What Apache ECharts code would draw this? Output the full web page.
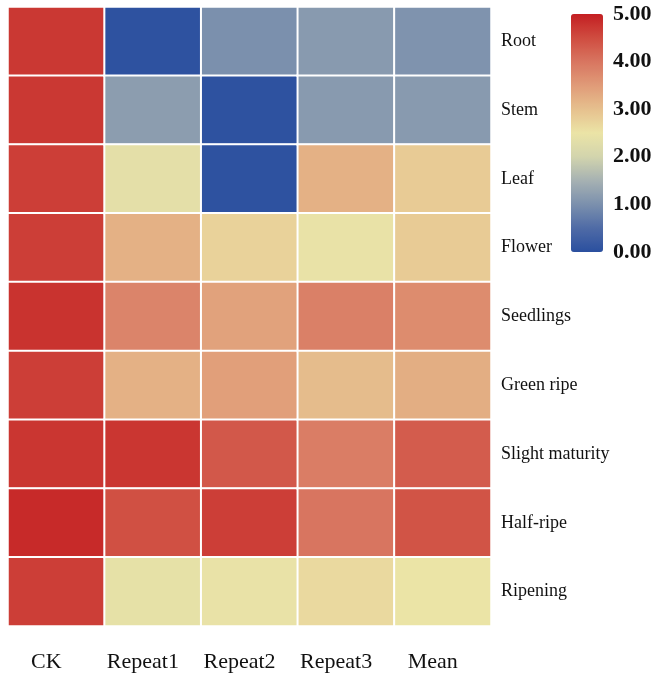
<!DOCTYPE html>
<html>
<head>
<meta charset="utf-8">
<script src="https://cdn.jsdelivr.net/npm/echarts@6/dist/echarts.min.js"></script>
<style>
  html, body { margin: 0; padding: 0; background: #ffffff; }
  #chart { width: 655px; height: 676px; }
</style>
</head>
<body>
<div id="chart"></div>
<script>
// Tissues / ripening stages (rows, top to bottom)
const rows = ['Root', 'Stem', 'Leaf', 'Flower', 'Seedlings', 'Green ripe', 'Slight maturity', 'Half-ripe', 'Ripening'];
// Treatments (columns, left to right)
const cols = ['CK', 'Repeat1', 'Repeat2', 'Repeat3', 'Mean'];

// Relative values for each column, one entry per row
const ck      = [4.72, 4.72, 4.65, 4.65, 4.78, 4.65, 4.75, 4.88, 4.65];
const repeat1 = [0.05, 1.20, 2.35, 3.20, 3.80, 3.20, 4.75, 4.45, 2.40];
const repeat2 = [1.00, 0.05, 0.05, 2.75, 3.40, 3.45, 4.35, 4.65, 2.45];
const repeat3 = [1.15, 1.15, 3.20, 2.45, 3.85, 3.05, 3.90, 4.00, 2.65];
const mean    = [1.05, 1.15, 2.85, 2.85, 3.70, 3.25, 4.30, 4.40, 2.50];

// Colour-scale tick labels
const scaleTicks = [0, 1, 2, 3, 4, 5];

const columns = [ck, repeat1, repeat2, repeat3, mean];
const cells = [];
columns.forEach((col, xi) => {
  col.forEach((v, yi) => cells.push([xi, yi, v]));
});

const serif = "'Liberation Serif', 'DejaVu Serif', serif";

const chart = echarts.init(document.getElementById('chart'), null, { renderer: 'canvas' });
chart.setOption({
  backgroundColor: '#ffffff',
  animation: false,
  grid: [
    { left: 8, right: 164, top: 7, bottom: 50 },
    // invisible grid carrying the colour-scale axis labels
    { left: 571, width: 32, top: 14, height: 238 }
  ],
  xAxis: [
    {
      type: 'category',
      data: cols,
      gridIndex: 0,
      axisLine: { show: false },
      axisTick: { show: false },
      splitLine: { show: false },
      axisLabel: {
        margin: 25,
        fontFamily: serif,
        fontSize: 22,
        color: '#111111',
        padding: [0, 20, 0, 0]
      }
    },
    { type: 'value', gridIndex: 1, show: false }
  ],
  yAxis: [
    {
      type: 'category',
      data: rows,
      inverse: true,
      position: 'right',
      gridIndex: 0,
      axisLine: { show: false },
      axisTick: { show: false },
      splitLine: { show: false },
      axisLabel: {
        margin: 10,
        align: 'left',
        fontFamily: serif,
        fontSize: 18,
        color: '#111111',
        padding: [4, 0, 0, 0]
      }
    },
    {
      type: 'value',
      gridIndex: 1,
      position: 'right',
      min: scaleTicks[0],
      max: scaleTicks[scaleTicks.length - 1],
      interval: 1,
      axisLine: { show: false },
      axisTick: { show: false },
      splitLine: { show: false },
      axisLabel: {
        margin: 10,
        fontFamily: serif,
        fontSize: 22,
        fontWeight: 'bold',
        color: '#111111',
        formatter: v => v.toFixed(2)
      }
    }
  ],
  visualMap: {
    type: 'continuous',
    min: 0,
    max: 5,
    calculable: false,
    orient: 'vertical',
    left: 571,
    top: 14,
    itemWidth: 32,
    itemHeight: 238,
    padding: 0,
    text: null,
    showLabel: false,
    seriesIndex: 0,
    inRange: {
      color: ['#2a4f9f', '#4f6ba6', '#7b90ad', '#a6b1b2', '#d2d4ad', '#ebe4a6',
              '#e6c08e', '#e09b78', '#d87560', '#cf4c40', '#c41f22']
    }
  },
  series: [{
    type: 'heatmap',
    xAxisIndex: 0,
    yAxisIndex: 0,
    data: cells,
    itemStyle: { borderColor: '#ffffff', borderWidth: 2 },
    emphasis: { disabled: true }
  }]
});
</script>
</body>
</html>
